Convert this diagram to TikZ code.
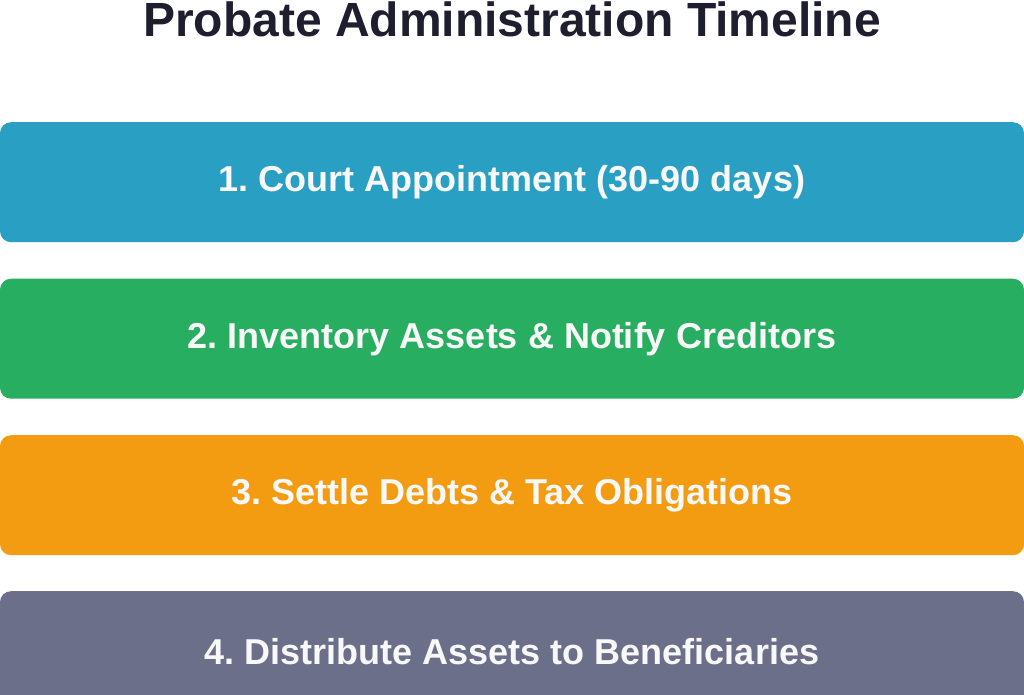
\documentclass[tikz,border=0pt]{standalone}
\usepackage{fontspec}
\setmainfont{Liberation Sans}
\definecolor{titlecol}{HTML}{1E1E2E}
\definecolor{c1}{HTML}{2A9FC4}
\definecolor{c2}{HTML}{27AE60}
\definecolor{c3}{HTML}{F39C12}
\definecolor{c4}{HTML}{6B6F8A}
\definecolor{txt}{HTML}{F8F8F8}
\tikzset{
  stepbox/.style={rounded corners=11pt, inner sep=0pt, minimum width=1024pt, minimum height=120pt, text=txt, font=\fontsize{36}{40}\selectfont\bfseries, anchor=north},
}
\begin{document}
\frenchspacing
\begin{tikzpicture}[x=1pt,y=-1pt]
\useasboundingbox (0,0) rectangle (1024,694);
\clip (0,0) rectangle (1024,694);
\node[font=\fontsize{48}{52}\selectfont\bfseries, text=titlecol, inner sep=0pt] (title) at (512,19) {Probate Administration Timeline};
\node[stepbox, fill=c1] (s1) at (512,122) {1. Court Appointment (30-90 days)};
\node[stepbox, fill=c2] (s2) at (512,278.5) {2. Inventory Assets \& Notify Creditors};
\node[stepbox, fill=c3] (s3) at (512,435) {3. Settle Debts \& Tax Obligations};
\node[stepbox, fill=c4] (s4) at (512,591) {4. Distribute Assets to Beneficiaries};
\end{tikzpicture}
\end{document}
